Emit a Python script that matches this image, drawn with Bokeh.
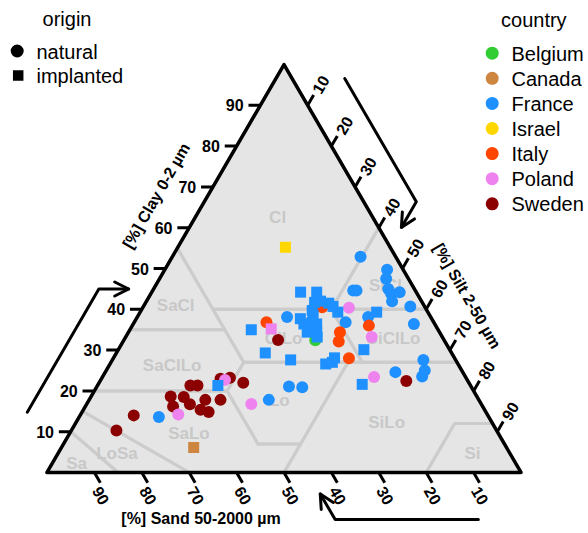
import math
from bokeh.plotting import figure
from bokeh.models import Range1d, Label, Arrow, OpenHead, ColumnDataSource
from bokeh.core.properties import value
from bokeh.embed import file_html
from bokeh.resources import INLINE

# ---------------- data ----------------
countries = ["Belgium", "Canada", "France", "Israel", "Italy", "Poland", "Sweden"]
country_colors = ["#32CD32", "#CD853F", "#1E90FF", "#FFD700", "#FF4500", "#EE82EE", "#8B0000"]
origins = ["natural", "implanted"]
origin_markers = ["circle", "square"]

sample_country = (["Sweden"] * 17 + ["France"] * 22 + ["Italy"] * 6 + ["Poland"] * 6 + ["Belgium"]
                  + ["France"] * 26 + ["Poland", "Israel", "Canada"])
sample_origin = ["natural"] * 52 + ["implanted"] * 29

clay_pct = [
    10.3, 14.0, 18.6, 16.2, 18.5, 21.3, 21.3, 16.7, 15.4, 17.8, 14.8, 17.8, 23.0, 23.2, 22.0, 32.5, 22.4,
    13.6, 17.8, 52.9, 49.7, 47.5, 45.0, 43.8, 44.2, 42.0, 40.7, 36.4, 44.6, 44.6, 38.1, 36.8, 38.1, 21.1, 20.9, 24.6, 27.6, 25.0, 23.5,
    36.8, 40.5, 34.4, 32.1, 28.0, 36.0,
    14.2, 22.7, 16.8, 40.4, 33.2, 23.4,
    32.4,
    21.3, 35.0, 29.3, 44.2, 44.2, 41.7, 42.0, 41.5, 40.7, 39.3, 39.7, 37.7, 36.4, 36.8, 36.4, 34.4, 34.4, 33.2, 38.5, 27.6, 39.3, 30.1, 26.6, 28.1, 27.0, 21.6,
    35.2,
    55.2,
    6.1,
]
silt_pct = [
    9.5, 11.3, 16.8, 18.5, 19.6, 19.6, 21.1, 21.8, 24.7, 24.5, 26.7, 27.7, 25.1, 27.0, 30.4, 32.5, 64.6,
    16.8, 37.9, 39.7, 46.9, 47.8, 49.5, 50.7, 52.3, 51.8, 56.3, 59.2, 42.3, 43.0, 31.6, 44.6, 48.7, 40.5, 43.4, 61.2, 65.6, 67.2, 67.4,
    27.9, 37.8, 44.6, 45.5, 49.7, 49.9,
    20.6, 26.2, 34.7, 43.5, 51.9, 57.3,
    40.4,
    25.4, 25.6, 31.4, 31.4, 34.8, 35.6, 36.7, 38.7, 40.0, 41.7, 36.1, 34.6, 36.0, 37.5, 38.7, 37.7, 39.7, 40.4, 36.9, 37.6, 49.9, 51.8, 45.5, 46.6, 46.7, 55.7,
    29.7,
    22.7,
    27.9,
]

# USDA texture classes: vertices as (clay, silt) percentages
class_names = ["Cl", "SiCl", "SaCl", "ClLo", "SiClLo", "SaClLo", "Lo", "SiLo", "Si", "SaLo", "LoSa", "Sa"]
class_polys = [
    [(100, 0), (60, 40), (40, 40), (40, 15), (55, 0)],
    [(60, 40), (40, 60), (40, 40)],
    [(55, 0), (40, 15), (35, 20), (35, 0)],
    [(40, 15), (40, 40), (27, 53), (27, 28)],
    [(40, 40), (40, 60), (27, 73), (27, 53)],
    [(35, 0), (35, 20), (27, 28), (20, 28), (20, 0)],
    [(27, 28), (27, 50), (7, 50), (7, 41), (20, 28)],
    [(27, 50), (27, 73), (12, 88), (12, 80), (0, 80), (0, 50), (7, 50)],
    [(12, 80), (12, 88), (0, 100), (0, 80)],
    [(20, 0), (20, 28), (7, 41), (7, 50), (0, 50), (0, 30), (15, 0)],
    [(15, 0), (0, 30), (0, 15), (10, 0)],
    [(10, 0), (0, 15), (0, 0)],
]
class_label_clay = [62.5, 45.8, 40.9, 32.8, 32.8, 26.2, 17.6, 12.3, 4.7, 9.5, 4.7, 2.1]
class_label_silt = [17.4, 48.5, 6.7, 33.5, 56.7, 13.3, 40.2, 65.5, 87.4, 25.2, 12.4, 5.2]

tick_values = [10, 20, 30, 40, 50, 60, 70, 80, 90]

# ---------------- geometry ----------------
H = math.sqrt(3) / 2.0
W, HT = 588, 533
X0, X1 = -9.81, 114.24
Y0, Y1 = -12.95, 100.19
SX = W / (X1 - X0)
SY = HT / (Y1 - Y0)


def tern(clay, silt):
    return silt + clay / 2.0, clay * H


def screen_to_data(px, py):
    return X0 + px / SX, Y1 - py / SY


FONT = "Liberation Sans"

p = figure(width=W, height=HT, x_range=Range1d(X0, X1), y_range=Range1d(Y0, Y1),
           output_backend="svg", toolbar_location=None,
           x_axis_type=None, y_axis_type=None, min_border=0,
           outline_line_color=None, background_fill_color="white", border_fill_color="white")
p.grid.visible = False

# triangle background
tri_x = [tern(0, 0)[0], tern(0, 100)[0], tern(100, 0)[0]]
tri_y = [tern(0, 0)[1], tern(0, 100)[1], tern(100, 0)[1]]
p.patch(tri_x, tri_y, fill_color="#E5E5E5", line_color=None)

# class boundaries
bx, by = [], []
for poly in class_polys:
    pts = [tern(c, s) for c, s in poly] + [tern(*poly[0])]
    bx.append([q[0] for q in pts])
    by.append([q[1] for q in pts])
p.multi_line(bx, by, line_color="#CCCCCC", line_width=3, line_join="round")

# class labels
lx, ly = zip(*[tern(c, s) for c, s in zip(class_label_clay, class_label_silt)])
p.text(x=list(lx), y=list(ly), text=class_names, text_color="#C8C8C8",
       text_font=value(FONT), text_font_size="17px", text_font_style="bold",
       text_align="center", text_baseline="middle")

# triangle border
p.patch(tri_x, tri_y, fill_color=None, line_color="black", line_width=3.5, line_join="round")

# ---------------- ticks ----------------
TL = 2.5
tx, ty = [], []
lab_x, lab_y, lab_t, lab_a = [], [], [], []
d60 = (0.5, H)
for v in tick_values:
    ex, ey = tern(v, 0)                      # clay (left)
    tx.append([ex, ex - TL]); ty.append([ey, ey])
    lab_x.append(ex - 5.4); lab_y.append(ey); lab_t.append(str(v)); lab_a.append(0.0)
    ex, ey = tern(100 - v, v)                # silt (right)
    tx.append([ex, ex + TL * d60[0]]); ty.append([ey, ey + TL * d60[1]])
    lab_x.append(ex + 2.7); lab_y.append(ey + 4.4); lab_t.append(str(v)); lab_a.append(math.pi / 3)
    ex, ey = tern(0, 100 - v)                # sand (bottom)
    tx.append([ex, ex + TL * d60[0]]); ty.append([ey, ey - TL * d60[1]])
    lab_x.append(ex + 1.4); lab_y.append(ey - 4.9); lab_t.append(str(v)); lab_a.append(-math.pi / 3)
p.multi_line(tx, ty, line_color="black", line_width=3)
p.text(x=lab_x, y=lab_y, text=lab_t, angle=lab_a, text_font=value(FONT), text_font_size="16px",
       text_font_style="bold", text_align="center", text_baseline="middle", text_color="black")


# ---------------- axis titles ----------------
def edge_point(origin, u, n, along, off):
    return origin[0] + along * u[0] + off * n[0], origin[1] + along * u[1] + off * n[1]


BL = tern(0, 0); BR = tern(0, 100); AP = tern(100, 0)
edges = [
    (BL, (0.5, H), (-H, 0.5), (1.0, 0.0)),      # clay
    (AP, (0.5, -H), (H, 0.5), (-0.5, -H)),      # silt
    (BR, (-1.0, 0.0), (0.0, -1.0), (-0.5, H)),  # sand
]
titles = ["[%] Clay 0-2 \u00b5m", "[%] Silt 2-50 \u00b5m", "[%] Sand 50-2000 \u00b5m"]
title_along = [62.4, 61.9, 67.5]
title_off = [9.4, 8.9, 9.8]
title_ang = [math.pi / 3, -math.pi / 3, 0.0]
ttx, tty = [], []
for (o, u, n, _), a, off in zip(edges, title_along, title_off):
    x, y = edge_point(o, u, n, a, off)
    ttx.append(x); tty.append(y)
p.text(x=ttx, y=tty, text=titles, angle=title_ang, text_font=value(FONT), text_font_size="16px",
       text_font_style="bold", text_align="center", text_baseline="middle", text_color="black")

# ---------------- arrows ----------------
for o, u, n, turn in edges:
    off = 9.6 if o is AP else 10.0
    s = edge_point(o, u, n, 9.0, off)
    b = edge_point(o, u, n, 39.2, off)
    t = (b[0] + 6.3 * turn[0], b[1] + 6.3 * turn[1])
    p.line([s[0], b[0], t[0]], [s[1], b[1], t[1]], line_color="black", line_width=3,
           line_join="round", line_cap="round")
    p.add_layout(Arrow(end=OpenHead(size=14, line_width=3, line_color="black", line_cap="round"),
                       x_start=b[0], y_start=b[1], x_end=t[0], y_end=t[1], line_color=None))

# ---------------- points ----------------
cmap = dict(zip(countries, country_colors))
mmap = dict(zip(origins, origin_markers))
smap = {"natural": 12, "implanted": 11}
px, py = zip(*[tern(c, s) for c, s in zip(clay_pct, silt_pct)])
src = ColumnDataSource(dict(
    x=list(px), y=list(py),
    sand=[100 - c - s for c, s in zip(clay_pct, silt_pct)],
    color=[cmap[c] for c in sample_country],
    marker=[mmap[o] for o in sample_origin],
    size=[smap[o] for o in sample_origin],
))
p.scatter(x="x", y="y", source=src, marker="marker", size="size", fill_color="color", line_color=None)

# ---------------- legends (drawn as keys + labels) ----------------
LEG_FONT = "20px"
LIFT = 7.0
# origin legend
o_key_px = [16.7, 17.7]
o_key_py = [50.5, 75.0]
o_sizes = [13, 10.5]
for m, kx, ky, sz, lab in zip(origin_markers, o_key_px, o_key_py, o_sizes, origins):
    dx, dy = screen_to_data(kx, ky)
    p.scatter([dx], [dy], marker=m, size=sz, fill_color="black", line_color=None)
    p.add_layout(Label(x=36.0, y=HT - (ky + 7.8) + LIFT, x_units="screen", y_units="screen", text=lab,
                       text_align="left", text_baseline="alphabetic", text_font=FONT,
                       text_font_size=LEG_FONT, text_color="black"))
p.add_layout(Label(x=66.5, y=HT - 25.3 + LIFT, x_units="screen", y_units="screen", text="origin",
                   text_align="center", text_baseline="alphabetic", text_font=FONT,
                   text_font_size=LEG_FONT, text_color="black"))

# country legend
c_key_px = 491.7
c_key_py0 = 52.7
c_step = 25.1
for i, (c, col) in enumerate(zip(countries, country_colors)):
    ky = c_key_py0 + i * c_step
    dx, dy = screen_to_data(c_key_px, ky)
    p.scatter([dx], [dy], marker="circle", size=13, fill_color=col, line_color=None)
    p.add_layout(Label(x=511.0, y=HT - (ky + 7.5) + LIFT, x_units="screen", y_units="screen", text=c,
                       text_align="left", text_baseline="alphabetic", text_font=FONT,
                       text_font_size=LEG_FONT, text_color="black"))
p.add_layout(Label(x=533.3, y=HT - 26.0 + LIFT, x_units="screen", y_units="screen", text="country",
                   text_align="center", text_baseline="alphabetic", text_font=FONT,
                   text_font_size=LEG_FONT, text_color="black"))

open("out.html", "w").write(file_html(p, INLINE))
